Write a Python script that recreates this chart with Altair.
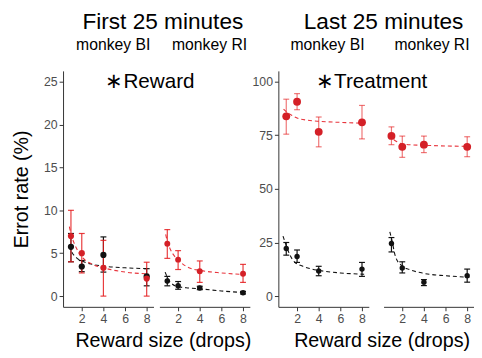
import altair as alt
import pandas as pd

FONT = "Liberation Sans"
RED_PT = "#d42027"
RED_BAR = "#e41a1c"
RED_LINE = "#e8353d"
BLACK = "#111111"

doses = [1, 2, 4, 8]

# ---- First 25 minutes, monkey BI ----
f_bi_red = [7.0, 5.0, 3.3, 2.05]
f_bi_red_lo = [4.0, 2.7, 0.0, 0.0]
f_bi_red_hi = [10.0, 7.3, 6.5, 3.95]
f_bi_blk = [5.75, 3.45, 4.8, 2.3]
f_bi_blk_lo = [4.0, 2.85, 2.8, 1.2]
f_bi_blk_hi = [7.3, 4.15, 6.9, 3.2]
f_bi_rcx = [0.85, 1, 1.25, 1.5, 2, 3, 4, 6, 8.2]
f_bi_rcy = [8.1, 7.3, 6.3, 5.6, 4.6, 3.7, 3.3, 2.8, 2.6]
f_bi_bcx = [0.9, 1, 1.5, 2, 3, 4, 6, 8.2]
f_bi_bcy = [5.9, 5.4, 4.5, 4.1, 3.7, 3.5, 3.3, 3.2]

# ---- First 25 minutes, monkey RI ----
f_ri_red = [6.1, 4.25, 2.9, 2.6]
f_ri_red_lo = [4.4, 3.1, 1.6, 1.6]
f_ri_red_hi = [7.75, 5.3, 4.1, 3.7]
f_ri_blk = [1.75, 1.2, 0.95, 0.4]
f_ri_blk_lo = [1.2, 0.8, 0.75, 0.25]
f_ri_blk_hi = [2.3, 1.7, 1.15, 0.55]
f_ri_rcx = [0.85, 1, 1.3, 1.7, 2, 3, 4, 6, 8.2]
f_ri_rcy = [7.2, 6.4, 5.4, 4.6, 4.2, 3.3, 3.0, 2.7, 2.5]
f_ri_bcx = [0.8, 1, 1.3, 2, 3, 4, 6, 8.2]
f_ri_bcy = [2.8, 2.2, 1.6, 1.1, 0.95, 0.85, 0.6, 0.4]

# ---- Last 25 minutes, monkey BI ----
l_bi_red = [83.8, 90.6, 76.6, 81.0]
l_bi_red_lo = [75.5, 86.9, 69.6, 73.3]
l_bi_red_hi = [91.8, 94.4, 83.5, 88.9]
l_bi_blk = [22.2, 18.5, 11.7, 12.6]
l_bi_blk_lo = [19.1, 15.7, 9.5, 9.2]
l_bi_blk_hi = [25.0, 21.5, 13.9, 15.7]
l_bi_rcx = [0.75, 1, 1.5, 2, 3, 4, 6, 8.2]
l_bi_rcy = [87.2, 86.0, 84.3, 83.0, 82.0, 81.5, 81.0, 80.6]
l_bi_bcx = [0.7, 1, 1.3, 1.75, 2.5, 3.4, 4, 6, 8.2]
l_bi_bcy = [28.0, 23.5, 19.6, 16.0, 14.0, 12.6, 12.0, 10.8, 10.2]

# ---- Last 25 minutes, monkey RI ----
l_ri_red = [74.7, 69.6, 70.6, 69.6]
l_ri_red_lo = [70.6, 64.7, 66.9, 65.0]
l_ri_red_hi = [78.9, 74.6, 74.6, 74.3]
l_ri_blk = [24.5, 13.1, 6.5, 9.5]
l_ri_blk_lo = [20.6, 10.8, 4.9, 6.5]
l_ri_blk_hi = [27.3, 16.0, 7.7, 12.6]
l_ri_rcx = [0.85, 1, 1.5, 2, 3, 4, 6, 8.2]
l_ri_rcy = [75.5, 74.2, 72.0, 71.0, 70.5, 70.3, 70.0, 69.8]
l_ri_bcx = [0.85, 1, 1.4, 2, 2.6, 4, 6, 8.2]
l_ri_bcy = [30.0, 27.0, 18.0, 14.0, 12.5, 10.6, 9.5, 8.8]

# annotations
ann_text = ["\u2217Reward", "\u2217Treatment"]
ann_x = [8.3, 8.9]
ann_y = [25, 100]

period_titles = ["First 25 minutes", "Last 25 minutes"]
monkey_titles = ["monkey BI", "monkey RI"]
x_title = "Reward size (drops)"
y_title = "Errot rate (%)"

xticks = [2, 4, 6, 8]
yticks_first = [0, 5, 10, 15, 20, 25]
yticks_last = [0, 25, 50, 75, 100]

XDOM = [0.27, 8.63]
PW, H = 92, 240


def panel(red, rlo, rhi, blk, blo, bhi, rcx, rcy, bcx, bcy, ydom, yticks, show_y,
          ytitle, xtitle, monkey, red_size, blk_size, bar_op, trail=0.0,
          monkey_x=46.0, xtitle_x=0.0, ann_idx=None, top_text=None, top_x=0.0):
    vw = PW + trail
    X = alt.X("dose", type="quantitative",
              scale=alt.Scale(domain=XDOM, nice=False, zero=False, range=[0, PW]),
              axis=alt.Axis(values=xticks, title=xtitle, grid=False, labelFontSize=12.5,
                            labelColor="#4d4d4d", tickColor="#333333", domainColor="#333333",
                            tickSize=4, labelPadding=2, titleFontSize=20,
                            titleFontWeight="normal", titleColor="black", titleX=xtitle_x,
                            titlePadding=6, labelFont=FONT, titleFont=FONT))

    def Y(f):
        if show_y:
            ax = alt.Axis(values=yticks, title=ytitle, grid=False, labelFontSize=12.5,
                          labelColor="#4d4d4d", tickColor="#333333", domainColor="#333333",
                          tickSize=4, labelPadding=2, titleFontSize=20,
                          titleFontWeight="normal", titleColor="black", titlePadding=12,
                          labelFont=FONT, titleFont=FONT)
        else:
            ax = None
        return alt.Y(f, type="quantitative",
                     scale=alt.Scale(domain=ydom, nice=False, zero=False), axis=ax)

    pts_r = pd.DataFrame({"dose": doses, "v": red, "lo": rlo, "hi": rhi})
    pts_b = pd.DataFrame({"dose": doses, "v": blk, "lo": blo, "hi": bhi})
    cr = pd.DataFrame({"dose": rcx, "v": rcy})
    cb = pd.DataFrame({"dose": bcx, "v": bcy})

    layers = []
    for cdf, col in [(cb, BLACK), (cr, RED_LINE)]:
        layers.append(alt.Chart(cdf).mark_line(strokeDash=[4, 3], strokeWidth=1.1,
                                               interpolate="monotone", color=col)
                      .encode(x=X, y=Y("v")))
    for pdf, col, op in [(pts_b, BLACK, 1.0), (pts_r, RED_BAR, bar_op)]:
        base = alt.Chart(pdf)
        layers.append(base.mark_rule(color=col, strokeWidth=1.2, opacity=op)
                      .encode(x=X, y=Y("lo"), y2="hi"))
        for f in ["lo", "hi"]:
            layers.append(base.mark_tick(color=col, size=6, thickness=1.2, opacity=op,
                                         orient="horizontal")
                          .encode(x=X, y=Y(f)))
    layers.append(alt.Chart(pts_b).mark_circle(color=BLACK, size=blk_size, opacity=1)
                  .encode(x=X, y=Y("v")))
    layers.append(alt.Chart(pts_r).mark_circle(color=RED_PT, size=red_size, opacity=1)
                  .encode(x=X, y=Y("v")))
    if ann_idx is not None:
        adf = pd.DataFrame({"dose": [ann_x[ann_idx]], "v": [ann_y[ann_idx]],
                            "t": [ann_text[ann_idx]]})
        layers.append(alt.Chart(adf).mark_text(fontSize=21, font=FONT, align="center",
                                               baseline="middle", color="black")
                      .encode(x=X, y=Y("v"), text="t:N"))
    mdf = pd.DataFrame({"t": [monkey]})
    layers.append(alt.Chart(mdf).mark_text(fontSize=16, font=FONT, align="center",
                                           baseline="alphabetic", color="black")
                  .encode(text="t:N", x=alt.value(monkey_x), y=alt.value(-21.7)))
    if top_text is not None:
        tdf = pd.DataFrame({"t": [top_text]})
        layers.append(alt.Chart(tdf).mark_text(fontSize=23, font=FONT, align="center",
                                               baseline="alphabetic", color="black")
                      .encode(text="t:N", x=alt.value(top_x), y=alt.value(-42.5)))
    return alt.layer(*layers).properties(width=vw, height=H)


p1 = panel(f_bi_red, f_bi_red_lo, f_bi_red_hi, f_bi_blk, f_bi_blk_lo, f_bi_blk_hi,
           f_bi_rcx, f_bi_rcy, f_bi_bcx, f_bi_bcy, [-1.25, 26.25], yticks_first, True,
           y_title, x_title, monkey_titles[0], 40, 40, 0.85,
           monkey_x=51, xtitle_x=101.5, ann_idx=0, top_text=period_titles[0], top_x=101.5)
p2 = panel(f_ri_red, f_ri_red_lo, f_ri_red_hi, f_ri_blk, f_ri_blk_lo, f_ri_blk_hi,
           f_ri_rcx, f_ri_rcy, f_ri_bcx, f_ri_bcy, [-1.25, 26.25], yticks_first, False,
           None, None, monkey_titles[1], 36, 32, 0.85, trail=23, monkey_x=51)
p3 = panel(l_bi_red, l_bi_red_lo, l_bi_red_hi, l_bi_blk, l_bi_blk_lo, l_bi_blk_hi,
           l_bi_rcx, l_bi_rcy, l_bi_bcx, l_bi_bcy, [-5, 105], yticks_last, True,
           None, x_title, monkey_titles[0], 64, 30, 0.6, trail=8.7,
           monkey_x=50, xtitle_x=105, ann_idx=1, top_text=period_titles[1], top_x=107)
p4 = panel(l_ri_red, l_ri_red_lo, l_ri_red_hi, l_ri_blk, l_ri_blk_lo, l_ri_blk_hi,
           l_ri_rcx, l_ri_rcy, l_ri_bcx, l_ri_bcy, [-5, 105], yticks_last, False,
           None, None, monkey_titles[1], 64, 30, 0.6, monkey_x=49.3)

chart = alt.hconcat(p1, p2, p3, p4, spacing=6, bounds="flush").properties(
    padding={"left": 4, "top": 0, "right": 0, "bottom": 0}
).configure(font=FONT).configure_view(stroke=None)

chart.save("out.html", embed_options={"renderer": "svg", "actions": False})
